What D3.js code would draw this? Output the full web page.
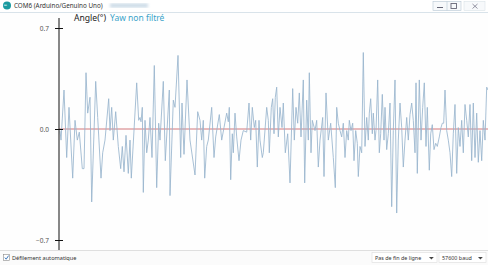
<!DOCTYPE html>
<html>
<head>
<meta charset="utf-8">
<script src="https://cdn.jsdelivr.net/npm/d3@7"></script>
<style>
  body { margin: 0; background: #fff; overflow: hidden; }
  text { font-family: "Noto Sans", "Open Sans", sans-serif; }
</style>
</head>
<body>
<svg id="chart" width="488" height="265"></svg>
<script>
// y axis ticks shown by the plotter
const yTicks = [0.7, 0.0, -0.7];

// sample number (x) and yaw angle
const sampleT = [
  1, 2, 5, 7.7, 10, 13.7, 16, 18.3, 20.3, 23.3, 25, 27, 28.7, 31, 32.7, 36.7, 38.7, 42, 43.7, 46,
  49.7, 51, 52.7, 54.3, 56.7, 59.3, 61.7, 63.3, 65, 67, 69.3, 71, 72.3, 77.7, 79.7, 81, 82, 83.3, 84.3, 86,
  87.7, 89.3, 91, 93, 95.3, 97.7, 99.7, 101, 104.3, 106.3, 110.3, 111, 114.3, 116, 119, 121.7, 123, 125, 128, 131,
  136, 138.7,
  141, 142.7, 144.3, 145.7, 147.7, 149.3, 152.7, 155, 156.7, 160.3, 162.7, 165, 167.7, 169.3, 170.3, 171.7, 173.3, 174.3, 176, 177.7,
  180, 182, 184.3, 187.7, 190, 191.7, 193.3, 195.3, 196.7, 198.3, 200, 201, 203.3, 204.3, 207.7, 209.3, 210.3, 212.3, 213.7, 215,
  216.3, 217.7, 219.3, 221, 223, 224.3, 226.3, 228.7, 231, 233.7, 235.3, 237, 238.7, 240.3, 242, 244.3, 245.7, 247.7, 249.3, 250.3,
  252, 253.3, 256, 257.7, 259.3, 261, 263.7, 265, 267, 269.3, 271.7, 274.3, 276.3, 277.7, 279.3,
  281, 282.7, 284.3, 286, 287.7, 289.3, 290.3, 292, 293.7, 295, 296.7, 298.3, 299.3, 301, 302.7, 304.3, 306, 307.7, 309.3, 310.3,
  311.7, 313.3, 314.3, 316, 317, 318.7, 320.3, 321.7, 323.3, 325, 326, 327.7, 329.3, 331, 332.7, 334.3, 336, 337.7, 339.3, 341,
  342.7, 344.3, 346, 347.7, 349.3, 351, 352.7, 354.3, 356, 357, 358.3, 360.3, 362, 363.7, 365.3, 367, 368.3, 370.3, 371.7, 373.3,
  375, 376.7, 378.3, 380.3, 382, 383.3, 384.7, 386, 387.7, 389.3, 391, 392.7, 394.3, 396, 397.7, 399.3, 401, 402.7, 404.3, 406,
  407.7, 409.3, 411, 412.7, 414.3, 416, 417.7, 419.3, 421, 422.7, 424.3, 426, 427.7, 429
];
const yaw = [
  -0.01, -0.07, 0.27, -0.18, 0.15, -0.31, 0.06, -0.07, -0.02, -0.25, -0.25, 0.39, 0.11, 0.22, -0.46, 0.33, 0.08, -0.31, -0.15, -0.07,
  0.21, -0.01, 0.15, -0.07, 0.12, -0.11, -0.25, -0.11, -0.27, -0.04, -0.28, -0.07, -0.31, 0.32, 0.06, 0.08, 0.05, 0.15, -0.40, 0.06,
  -0.15, -0.07, 0.08, -0.18, 0.44, -0.37, 0.04, -0.07, 0.33, -0.20, 0.27, -0.42, 0.20, 0.15, 0.51, -0.18, 0.18, -0.16, 0.34, -0.07,
  -0.29, 0.12,
  0.06, -0.07, 0.06, -0.31, -0.11, -0.07, 0.15, -0.18, -0.05, 0.10, -0.07, 0.01, 0.11, 0.05, 0.15, -0.32, -0.03, -0.15, 0.11, -0.05,
  -0.20, -0.07, -0.01, -0.02, 0.18, -0.07, 0.15, 0.01, 0.06, -0.24, 0.06, -0.07, -0.18, -0.15, 0.15, 0.06, -0.15, 0.15, 0.21, -0.03,
  0.22, 0.29, -0.05, 0.15, 0.01, 0.18, -0.15, -0.03, -0.34, 0.28, -0.07, 0.15, 0.04, 0.25, -0.05, 0.34, -0.34, 0.20, -0.07, 0.39,
  -0.15, 0.06, -0.01, 0.06, -0.24, -0.07, 0.08, -0.30, 0.25, -0.07, 0.04, -0.18, -0.37, 0.15, 0.04,
  -0.01, -0.05, 0.04, -0.18, -0.01, -0.07, 0.06, -0.01, 0.04, -0.20, -0.01, -0.09, -0.30, -0.11, -0.15, 0.53, -0.11, 0.08, -0.07, 0.11,
  0.21, -0.03, 0.11, -0.07, -0.01, 0.34, -0.15, -0.03, 0.24, -0.07, 0.15, -0.13, -0.03, 0.18, -0.49, -0.01, 0.34, -0.53, -0.07, 0.18,
  0.01, -0.24, -0.07, 0.08, -0.07, 0.10, 0.18, 0.06, -0.15, 0.32, -0.28, 0.34, -0.07, 0.15, 0.32, -0.11, 0.15, -0.26, -0.03, 0.03,
  -0.13, -0.09, -0.11, -0.05, 0.01, 0.04, 0.04, 0.27, -0.01, -0.07, -0.15, -0.30, -0.03, 0.17, -0.28, 0.01, -0.11, 0.06, -0.15, 0.17,
  0.06, -0.05, 0.17, -0.20, 0.18, -0.18, 0.11, -0.21, -0.01, -0.20, 0.06, -0.07, 0.29, 0.27
];

const svg = d3.select("#chart");
const W = 488, H = 265;

svg.append("rect").attr("width", W).attr("height", H).attr("fill", "#fefefe");

// window title bar
const titleBar = svg.append("g");
titleBar.append("rect").attr("width", W).attr("height", 12).attr("fill", "#fff");
titleBar.append("circle").attr("cx", 7).attr("cy", 5.5).attr("r", 4).attr("fill", "#1a9aa0");
titleBar.append("text").attr("x", 3.8).attr("y", 7.3).attr("font-size", 4.5).attr("fill", "#fff").text("∞");
titleBar.append("text").attr("x", 14).attr("y", 8).attr("font-size", 6.3).attr("fill", "#333")
  .text("COM6 (Arduino/Genuino Uno)");
svg.append("defs").append("filter").attr("id", "blur")
  .append("feGaussianBlur").attr("stdDeviation", 1.5);
titleBar.append("rect").attr("x", 110).attr("y", 3.5).attr("width", 38).attr("height", 4)
  .attr("fill", "#c9d9e6").attr("filter", "url(#blur)");
// window buttons
titleBar.append("rect").attr("x", 433).attr("y", 1.5).attr("width", 28).attr("height", 9)
  .attr("fill", "#f7f9fb").attr("stroke", "#b7c7d4").attr("stroke-width", 0.6);
titleBar.append("line").attr("x1", 447).attr("x2", 447).attr("y1", 1.5).attr("y2", 10.5)
  .attr("stroke", "#b7c7d4").attr("stroke-width", 0.6);
titleBar.append("line").attr("x1", 437).attr("x2", 443).attr("y1", 7.5).attr("y2", 7.5)
  .attr("stroke", "#667").attr("stroke-width", 1);
titleBar.append("rect").attr("x", 451).attr("y", 3.5).attr("width", 5.5).attr("height", 5)
  .attr("fill", "none").attr("stroke", "#667").attr("stroke-width", 0.9);
titleBar.append("rect").attr("x", 464).attr("y", 1.5).attr("width", 21).attr("height", 9)
  .attr("fill", "#f7f9fb").attr("stroke", "#d4dde4").attr("stroke-width", 0.5);
titleBar.append("path").attr("d", "M472.5,4 L477.5,8.5 M477.5,4 L472.5,8.5")
  .attr("stroke", "#889").attr("stroke-width", 0.9);
titleBar.append("line").attr("x1", 0).attr("x2", W).attr("y1", 12.5).attr("y2", 12.5)
  .attr("stroke", "#cfdce4").attr("stroke-width", 0.8);

// scales
const x = d3.scaleLinear().domain([0, 430]).range([59, 489]);
const y = d3.scaleLinear().domain([-0.7, 0, 0.7]).range([240, 129, 28]);

// zero line
svg.append("line")
  .attr("x1", x(0)).attr("x2", W)
  .attr("y1", y(0)).attr("y2", y(0))
  .attr("stroke", "#c8555a").attr("stroke-width", 0.8);

// series
const pts = sampleT.map((t, i) => [t, yaw[i]]);
svg.append("path")
  .datum(pts)
  .attr("fill", "none")
  .attr("stroke", "#98b5ce")
  .attr("stroke-width", 0.85)
  .attr("stroke-linejoin", "round")
  .attr("d", d3.line().x(d => x(d[0])).y(d => y(d[1])));

// y axis
svg.append("line").attr("x1", 59).attr("x2", 59).attr("y1", 18).attr("y2", 250)
  .attr("stroke", "#111").attr("stroke-width", 1);
const yAxis = svg.append("g")
  .attr("transform", "translate(63,0)")
  .call(d3.axisLeft(y).tickValues(yTicks).tickSize(8).tickSizeOuter(0).tickFormat(d3.format(".1f")));
yAxis.select(".domain").remove();
yAxis.selectAll(".tick line").attr("stroke", "#111");
yAxis.selectAll(".tick text")
  .attr("x", -14)
  .attr("font-family", "Noto Sans, sans-serif")
  .attr("font-size", 6.5)
  .attr("fill", "#555");

// legend
svg.append("text").attr("x", 74).attr("y", 21).attr("font-size", 8.6).attr("fill", "#222").text("Angle(°)");
svg.append("text").attr("x", 110).attr("y", 21).attr("font-size", 8.5).attr("fill", "#3aa3c9").text("Yaw non filtré");

// bottom bar
svg.append("rect").attr("x", 0).attr("y", 250).attr("width", W).attr("height", 15).attr("fill", "#fbfbfb");
svg.append("line").attr("x1", 0).attr("x2", W).attr("y1", 250.5).attr("y2", 250.5)
  .attr("stroke", "#d8d8d8").attr("stroke-width", 0.8);
svg.append("rect").attr("x", 3.5).attr("y", 254.5).attr("width", 6).attr("height", 6)
  .attr("fill", "#fff").attr("stroke", "#8a8a8a").attr("stroke-width", 0.6);
svg.append("path").attr("d", "M4.8,257.6 L6.2,259.2 L8.6,255.6")
  .attr("fill", "none").attr("stroke", "#2a6bb5").attr("stroke-width", 0.9);
svg.append("text").attr("x", 12).attr("y", 259.8).attr("font-size", 5.6).attr("fill", "#333")
  .text("Défilement automatique");

const drops = [
  { x: 372, w: 65, label: "Pas de fin de ligne" },
  { x: 439, w: 47, label: "57600 baud" }
];
const dd = svg.selectAll("g.drop").data(drops).enter().append("g").attr("class", "drop");
dd.append("rect").attr("x", d => d.x).attr("y", 252.5).attr("width", d => d.w).attr("height", 10)
  .attr("fill", "#fff").attr("stroke", "#dcdcdc").attr("stroke-width", 0.6);
dd.append("text").attr("x", d => d.x + 3).attr("y", 259.5).attr("font-size", 5.4).attr("fill", "#333")
  .text(d => d.label);
dd.append("path").attr("d", d => `M${d.x + d.w - 8},257 l2.4,2.4 l2.4,-2.4 z`).attr("fill", "#444");
</script>
</body>
</html>
